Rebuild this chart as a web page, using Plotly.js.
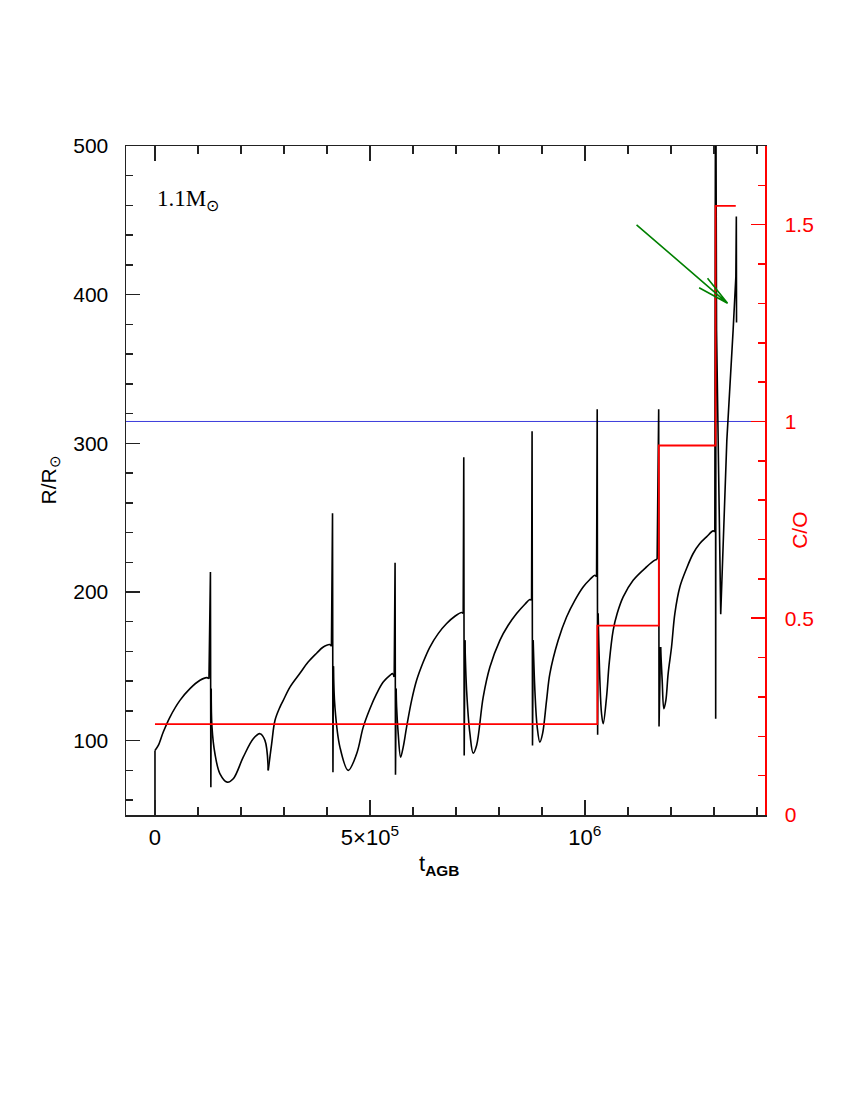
<!DOCTYPE html>
<html>
<head>
<meta charset="utf-8">
<script src="https://cdn.plot.ly/plotly-3.0.1.min.js"></script>
<style>
  html, body { margin: 0; padding: 0; background: #fff; }
  #chart { width: 850px; height: 1100px; }
</style>
</head>
<body>
<div id="chart"></div>
<script>
// stellar radius along the AGB (t in years, R in Rsun)
// smooth interpulse stretches
const interpulseTime = [
  [0, 7700, 19300, 34900, 58100, 81400, 104700, 120200, 125600],
  [130800, 132600, 139500, 151200, 168100, 182100, 205300, 228600, 244200, 255800, 263500],
  [263500, 271400, 279100, 290700, 298400, 314000, 337200, 355800, 376000, 390700, 407000, 410500],
  [415000, 418600, 430200, 449500, 469100, 484400, 500000, 515600, 530900, 546500, 552800, 556500],
  [561000, 562100, 565800, 571400, 577400, 585300, 597000, 608600, 624000, 639500, 658800, 678400, 697700, 713300, 717000],
  [720900, 724900, 732600, 740200, 748100, 763500, 779100, 802300, 821600, 841200, 860500, 872100, 876000],
  [879800, 883700, 889100, 895300, 901600, 910900, 918600, 937900, 957400, 976700, 996000, 1011600, 1023300, 1027200],
  [1030900, 1034900, 1038800, 1042600, 1050400, 1056500, 1065800, 1075100, 1089100, 1112300, 1143500, 1162800, 1168100],
  [1176000, 1179800, 1183700, 1188400, 1193700, 1201600, 1209300, 1220900, 1236500, 1251900, 1267400, 1283000, 1298400, 1302300]
];
const interpulseRadius = [
  [93.4, 96.8, 105.8, 115.9, 127.1, 135.0, 140.6, 142.4, 141.7],
  [135, 109.1, 91.2, 77.7, 72.1, 74.4, 88.9, 101.3, 104.7, 100.2, 80.0],
  [80.0, 97.9, 113.6, 122.6, 127.1, 136.0, 145.3, 152.7, 158.8, 162.8, 164.6, 163.5],
  [150, 122.6, 95.7, 80.0, 91.2, 109.1, 121.5, 131.6, 139.4, 143.9, 145.1, 142.8],
  [135, 122.6, 104.7, 88.9, 95.7, 109.1, 127.1, 140.6, 152.9, 163.0, 172.0, 178.8, 183.7, 186.2, 185.5],
  [167.5, 133.8, 104.7, 91.6, 96.8, 129.3, 149.5, 167.5, 177.6, 185.5, 191.8, 194.9, 194.4],
  [167.5, 133.8, 109.1, 99.0, 104.7, 127.1, 145.1, 167.5, 183.2, 194.4, 203.4, 208.4, 211.3, 210.1],
  [185.5, 140.6, 118.1, 111.4, 129.3, 151.8, 174.2, 185.5, 196.7, 207.9, 216.9, 221.4, 222.1],
  [163.0, 140.6, 121.5, 127.1, 145.1, 163.0, 185.5, 203.4, 215.8, 225.9, 232.6, 237.1, 241.1, 240.4]
];
// thermal pulse spikes (and the last, steep stretch)
const pulseTime = [
  [0, 0],
  [125600, 129000, 130000, 130800],
  [410500, 413000, 414000, 415000],
  [556500, 558500, 559500, 561000],
  [717000, 718300, 719300, 720900],
  [876000, 877200, 878200, 879800],
  [1027200, 1028700, 1029700, 1030900],
  [1168100, 1171700, 1172500, 1176000],
  [1302300, 1303700, 1304300, 1305000, 1306300, 1316000, 1330200, 1344900, 1350000, 1351200, 1352300, 1352800]
];
const pulseRadius = [
  [45, 93.4],
  [141.7, 213.5, 68.7, 135],
  [163.5, 253, 78.8, 150],
  [142.8, 219.6, 77.1, 135],
  [185.5, 290.7, 90.1, 167.5],
  [194.4, 308.2, 96.8, 167.5],
  [210.1, 322.9, 104.0, 185.5],
  [222.1, 322.9, 109.6, 163.0],
  [240.4, 530, 114.8, 510, 376.3, 185.0, 302, 376.3, 407.9, 412, 452.6, 381.2]
];

// surface C/O ratio (step after each dredge-up)
const stepTime = [0, 1029000, 1172000, 1304000, 1351000];
const coRatio = [0.231, 0.481, 0.939, 1.548, 1.548];

// green arrow: start, tip, and the two barbs (t, R)
const arrowStart = [1120200, 447];
const arrowTip = [1331900, 394.2];
const arrowBarbs = [[1285300, 411.1], [1265800, 404.7]];

const xTickVals = [0, 500000, 1000000];
const xTickText = ['0', '5\u00d710<sup>5</sup>', '10<sup>6</sup>'];
const yTickVals = [100, 200, 300, 400, 500];
const y2TickVals = [0, 0.5, 1, 1.5];
const y2TickText = ['0', '0.5', '1', '1.5'];

const sans = 'Liberation Sans, Arial, sans-serif';
const serif = 'Liberation Serif, Times New Roman, serif';
const axisCol = '#222';

const traces = [];
interpulseTime.forEach((t, i) => {
  traces.push({
    x: t,
    y: interpulseRadius[i],
    type: 'scatter',
    mode: 'lines',
    line: { color: '#000', width: 1.6, shape: 'spline', smoothing: 1 },
    hoverinfo: 'skip'
  });
});
pulseTime.forEach((t, i) => {
  traces.push({
    x: t,
    y: pulseRadius[i],
    type: 'scatter',
    mode: 'lines',
    line: { color: '#000', width: 1.6 },
    hoverinfo: 'skip'
  });
});
traces.push({
  x: stepTime,
  y: coRatio,
  yaxis: 'y2',
  type: 'scatter',
  mode: 'lines',
  line: { color: '#ff0000', width: 1.8, shape: 'hv' },
  hoverinfo: 'skip'
});

const arrowPath = 'M ' + arrowStart[0] + ' ' + arrowStart[1] + ' L ' + arrowTip[0] + ' ' + arrowTip[1] +
  ' M ' + arrowBarbs[0][0] + ' ' + arrowBarbs[0][1] + ' L ' + arrowTip[0] + ' ' + arrowTip[1] +
  ' L ' + arrowBarbs[1][0] + ' ' + arrowBarbs[1][1];

const layout = {
  width: 850,
  height: 1100,
  margin: { l: 126, r: 85, t: 146, b: 285 },
  paper_bgcolor: '#fff',
  plot_bgcolor: '#fff',
  showlegend: false,
  font: { family: sans, size: 21, color: '#000' },
  xaxis: {
    range: [-67400, 1419000],
    tickmode: 'array',
    tickvals: xTickVals,
    ticktext: xTickText,
    ticks: 'inside',
    ticklen: 15,
    tickwidth: 1.5,
    tickcolor: axisCol,
    minor: { tickmode: 'linear', tick0: 0, dtick: 100000, ticks: 'inside', ticklen: 8, tickwidth: 1.5, tickcolor: axisCol },
    showline: true,
    linecolor: axisCol,
    linewidth: 1.5,
    mirror: 'ticks',
    showgrid: false,
    zeroline: false,
    ticklabelstandoff: 2,
    tickfont: { family: sans, size: 22, color: '#000' }
  },
  yaxis: {
    range: [50, 500],
    tickmode: 'array',
    tickvals: yTickVals,
    ticks: 'inside',
    ticklen: 14,
    tickwidth: 1.5,
    tickcolor: axisCol,
    minor: { tickmode: 'linear', tick0: 0, dtick: 20, ticks: 'inside', ticklen: 7, tickwidth: 1.5, tickcolor: axisCol },
    showline: true,
    linecolor: axisCol,
    linewidth: 1.5,
    showgrid: false,
    zeroline: false,
    ticklabelstandoff: 12,
    tickfont: { family: sans, size: 21, color: '#000' }
  },
  yaxis2: {
    range: [0, 1.7],
    overlaying: 'y',
    anchor: 'x',
    side: 'right',
    tickmode: 'array',
    tickvals: y2TickVals,
    ticktext: y2TickText,
    ticks: 'inside',
    ticklen: 14,
    tickwidth: 1.5,
    tickcolor: '#ff0000',
    minor: { tickmode: 'linear', tick0: 0, dtick: 0.1, ticks: 'inside', ticklen: 7, tickwidth: 1.5, tickcolor: '#ff0000' },
    showline: true,
    linecolor: '#ff0000',
    linewidth: 1.5,
    showgrid: false,
    zeroline: false,
    ticklabelstandoff: 14,
    tickfont: { family: sans, size: 21, color: '#ff0000' }
  },
  shapes: [
    {
      type: 'line', xref: 'paper', yref: 'y2',
      x0: 0, x1: 1, y0: 1, y1: 1,
      line: { color: 'rgb(60,60,220)', width: 1 },
      layer: 'below'
    },
    {
      type: 'path', xref: 'x', yref: 'y',
      path: arrowPath,
      line: { color: '#008000', width: 1.6 }
    }
  ],
  annotations: [
    {
      xref: 'x', yref: 'y', x: 0, y: 464,
      xanchor: 'left', yanchor: 'middle',
      text: '1.1M<sub>\u2299</sub>',
      showarrow: false,
      font: { family: serif, size: 23, color: '#000' }
    },
    {
      xref: 'paper', yref: 'paper', x: -0.1205, y: 0.5,
      xanchor: 'center', yanchor: 'middle', textangle: -90,
      text: 'R/R<sub>\u2299</sub>',
      showarrow: false,
      font: { family: sans, size: 21, color: '#000' }
    },
    {
      xref: 'paper', yref: 'paper', x: 0.49, y: -0.0747,
      xanchor: 'center', yanchor: 'middle',
      text: 't<sub><b>AGB</b></sub>',
      showarrow: false,
      font: { family: sans, size: 22, color: '#000' }
    },
    {
      xref: 'paper', yref: 'paper', x: 1.053, y: 0.426,
      xanchor: 'center', yanchor: 'middle', textangle: -90,
      text: 'C/O',
      showarrow: false,
      font: { family: sans, size: 21, color: '#ff0000' }
    }
  ]
};

Plotly.newPlot('chart', traces, layout, { displayModeBar: false, staticPlot: true });
</script>
</body>
</html>
